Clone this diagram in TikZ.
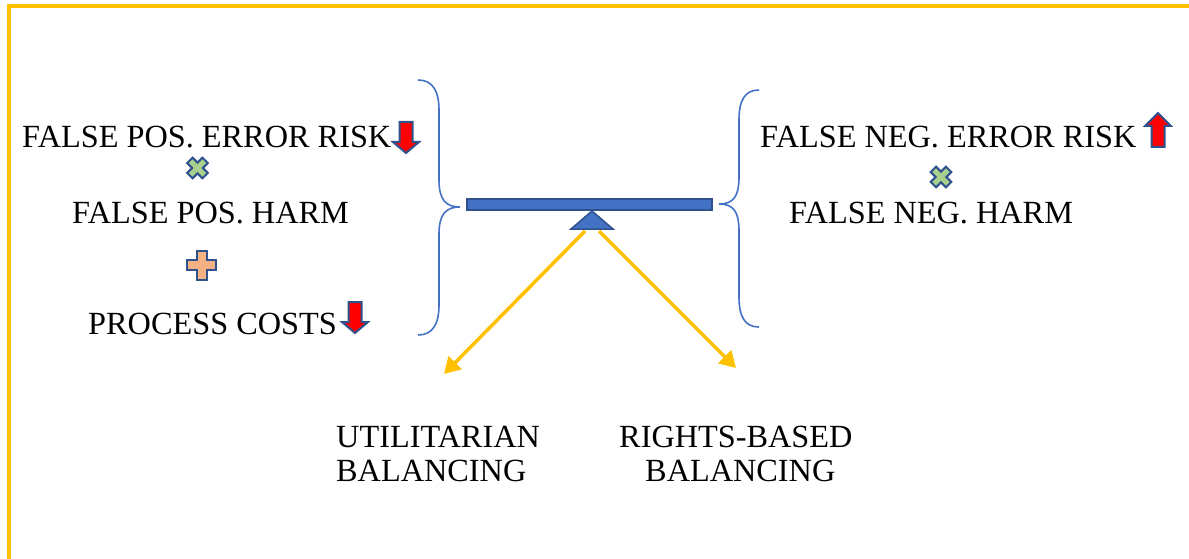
\documentclass[tikz,border=0pt]{standalone}
\usepackage{fontspec}
\setmainfont{Liberation Serif}
\usetikzlibrary{arrows.meta}
\definecolor{frameyellow}{HTML}{FFC000}
\definecolor{accblue}{HTML}{4472C4}
\definecolor{darkblue}{HTML}{2F528F}
\definecolor{lightgreen}{HTML}{A9D18E}
\definecolor{lightorange}{HTML}{F4B183}
\tikzset{
  lbl/.style={font=\fontsize{32.3}{38}\selectfont, inner sep=0pt, anchor=base west},
  brace/.style={draw=accblue, line width=1.6pt},
  beam/.style={fill=accblue, draw=darkblue, line width=1.5pt},
  yarrow/.style={draw=frameyellow, line width=3.5pt, -{Triangle[length=16pt,width=18pt]}},
  redarrow/.style={fill=red, draw=darkblue, line width=2pt, line join=miter},
  downarrow/.pic={\path[redarrow] (6.5,0) -- (19.5,0) -- (19.5,20) -- (26,20) -- (13,31) -- (0,20) -- (6.5,20) -- cycle;},
  uparrow/.pic={\path[redarrow] (13,0) -- (26,13) -- (19.5,13) -- (19.5,34) -- (6.5,34) -- (6.5,13) -- (0,13) -- cycle;},
  plusicon/.pic={\path[fill=lightorange, draw=darkblue, line width=2pt] (-5,-14.5) -- (5,-14.5) -- (5,-5) -- (14.5,-5) -- (14.5,5) -- (5,5) -- (5,14.5) -- (-5,14.5) -- (-5,5) -- (-14.5,5) -- (-14.5,-5) -- (-5,-5) -- cycle;},
  crossicon/.pic={\path[rotate=45, fill=lightgreen, draw=darkblue, line width=2pt] (-3.8,-10.8) -- (3.8,-10.8) -- (3.8,-3.8) -- (10.8,-3.8) -- (10.8,3.8) -- (3.8,3.8) -- (3.8,10.8) -- (-3.8,10.8) -- (-3.8,3.8) -- (-10.8,3.8) -- (-10.8,-3.8) -- (-3.8,-3.8) -- cycle;}
}
\begin{document}
\begin{tikzpicture}[x=1pt,y=-1pt]
\useasboundingbox (0,0) rectangle (1189,559);
% frame
\draw[frameyellow, line width=4pt] (9,570) -- (9,6) -- (1200,6);
% left texts
\node[lbl] (fpr) at (22,148) {FALSE POS. ERROR RISK};
\pic at (393,122) {downarrow};
\pic at (197.5,168) {crossicon};
\node[lbl] (fph) at (72,223) {FALSE POS. HARM};
\pic at (201.5,265) {plusicon};
\node[lbl] (pc) at (88,334) {PROCESS COSTS};
\pic at (342,302) {downarrow};
% right texts
\node[lbl] (fnr) at (760,148) {FALSE NEG. ERROR RISK};
\pic at (1145,113) {uparrow};
\pic at (941,177) {crossicon};
\node[lbl] (fnh) at (789,223) {FALSE NEG. HARM};
% braces
\draw[brace] (418,80) .. controls (432,80) and (439,90) .. (439,110) -- (439,180)
  .. controls (439,200) and (446,207) .. (460,207)
  .. controls (446,207) and (439,214) .. (439,234) -- (439,305)
  .. controls (439,325) and (432,335) .. (418,335);
\draw[brace] (759,90) .. controls (745,90) and (739,100) .. (739,120) -- (739,177)
  .. controls (739,197) and (733,204) .. (719,204)
  .. controls (733,204) and (739,211) .. (739,231) -- (739,297)
  .. controls (739,317) and (745,327) .. (759,327);
% beam and fulcrum
\path[beam] (467,199) rectangle (712,210);
\path[beam] (592,211) -- (613,229) -- (571,229) -- cycle;
\coordinate (fl) at (585,231);
\coordinate (fr) at (599,231);
\coordinate (ul) at (444,374);
\coordinate (ur) at (736,368);
\draw[yarrow] (fl) -- (ul);
\draw[yarrow] (fr) -- (ur);
% bottom labels
\node[lbl] (u1) at (336,447) {UTILITARIAN};
\node[lbl] (u2) at (336,481) {BALANCING};
\node[lbl] (r1) at (619,447) {RIGHTS-BASED};
\node[lbl] (r2) at (645,481) {BALANCING};
\end{tikzpicture}
\end{document}
